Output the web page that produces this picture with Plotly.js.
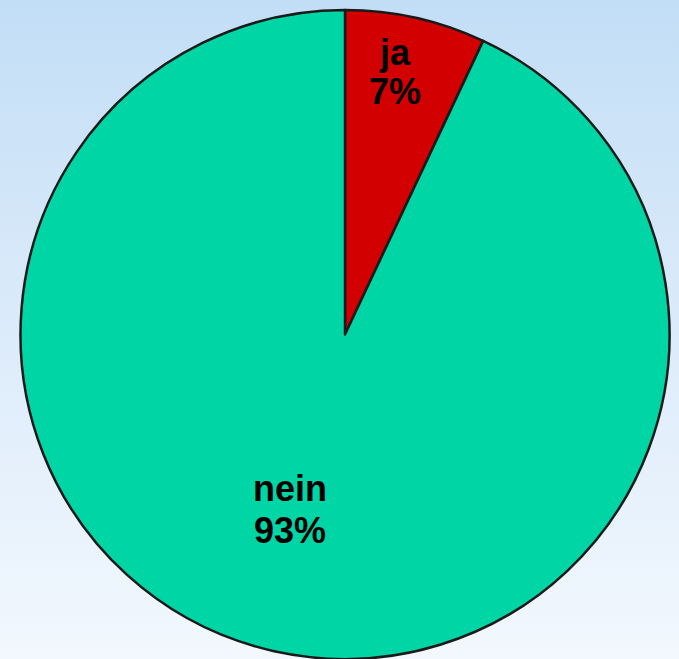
<!DOCTYPE html>
<html>
<head>
<meta charset="utf-8">
<script src="https://cdn.plot.ly/plotly-3.0.1.min.js"></script>
<style>
  html, body { margin: 0; padding: 0; width: 679px; height: 659px; overflow: hidden;
    background: linear-gradient(to bottom, #c2def6 0%, #dcebfa 50%, #f2f8fe 100%); }
  #chart { width: 679px; height: 659px; }
</style>
</head>
<body>
<div id="chart"></div>
<script>
const labels = ["ja", "nein"];
const values = [7, 93];
const colors = ["#d20000", "#00d6a5"];

// label placement (paper fractions) for each slice: [label line, percent line]
const labelPos = [
  { x: 395/679, yLabel: 1 - 52/659, yPct: 1 - 91/659 },
  { x: 290/679, yLabel: 1 - 489/659, yPct: 1 - 530/659 }
];

const total = values.reduce((a, b) => a + b, 0);
const font = { family: "Liberation Sans, Arial, sans-serif", size: 36, color: "#000000" };
const annotations = [];
labels.forEach((lab, i) => {
  const pct = Math.round(values[i] / total * 100) + "%";
  annotations.push({ xref: "paper", yref: "paper", x: labelPos[i].x, y: labelPos[i].yLabel,
    text: "<b>" + lab + "</b>", showarrow: false, xanchor: "center", yanchor: "middle", font: font });
  annotations.push({ xref: "paper", yref: "paper", x: labelPos[i].x, y: labelPos[i].yPct,
    text: "<b>" + pct + "</b>", showarrow: false, xanchor: "center", yanchor: "middle", font: font });
});

const trace = {
  type: "pie",
  labels: labels,
  values: values,
  sort: false,
  direction: "clockwise",
  rotation: 0,
  marker: { colors: colors, line: { color: "#1a1a1a", width: 2.5 } },
  textinfo: "none",
  hoverinfo: "label+percent",
  domain: { x: [20/679, 670/679], y: [0, 1 - 10/659] },
  showlegend: false
};

const layout = {
  width: 679, height: 659,
  margin: { l: 0, r: 0, t: 0, b: 0 },
  paper_bgcolor: "rgba(0,0,0,0)",
  plot_bgcolor: "rgba(0,0,0,0)",
  showlegend: false,
  annotations: annotations
};

Plotly.newPlot("chart", [trace], layout, { displayModeBar: false, staticPlot: true });
</script>
</body>
</html>
